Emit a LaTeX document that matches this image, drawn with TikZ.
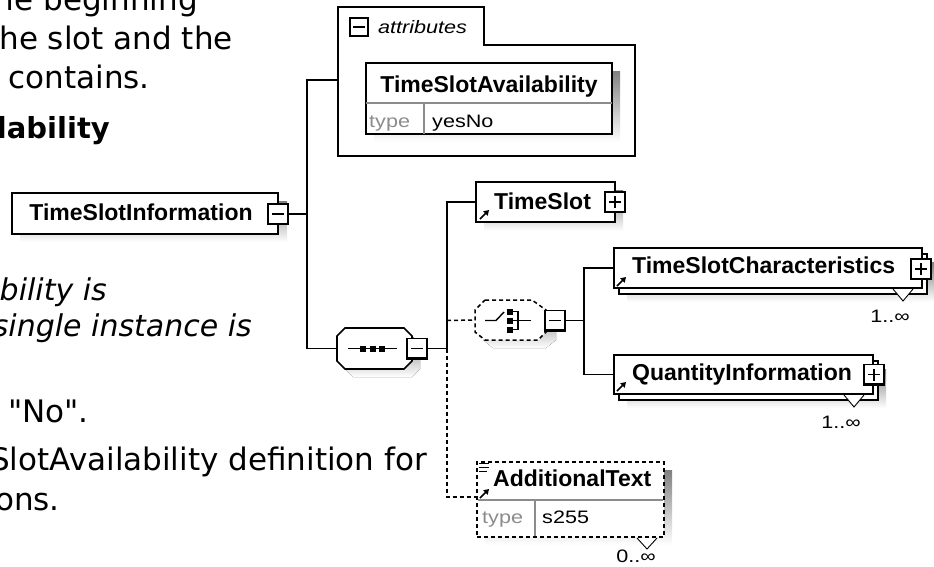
\documentclass[tikz,border=0pt]{standalone}
\usepackage{fontspec}
\setmainfont{Liberation Sans}
\newfontfamily\pagefont{DejaVu Sans}
\newfontfamily\widefont[FakeStretch=1.2]{Liberation Sans}
\usetikzlibrary{arrows.meta}
\definecolor{shade}{RGB}{192,192,192}
\definecolor{lbl}{RGB}{140,140,140}
\tikzset{
  conn/.style={line width=1.5pt},
  optconn/.style={line width=1.5pt, dash pattern=on 4pt off 3pt},
  elem/.style={draw, fill=white, line width=1.6pt, inner sep=0pt, outer sep=0pt, anchor=north west},
  optelem/.style={elem, dash pattern=on 4pt off 3pt},
  btn/.style={draw, fill=white, line width=1.3pt, minimum size=20pt, inner sep=0pt, outer sep=0pt},
  hid/.style={inner sep=0pt, outer sep=0pt},
  ename/.style={font=\fontsize{23}{23}\selectfont\bfseries, inner sep=0pt, anchor=base west},
  smalltxt/.style={font=\widefont\fontsize{18}{18}\selectfont, inner sep=0pt, anchor=base west},
  typelbl/.style={smalltxt, text=lbl},
  mult/.style={smalltxt, anchor=base east},
  body/.style={font=\pagefont\fontsize{31}{36}\selectfont, inner sep=0pt, anchor=base east},
  bodyb/.style={body, font=\pagefont\fontsize{29}{36}\selectfont\bfseries},
  bodyi/.style={body, font=\pagefont\fontsize{30}{36}\selectfont\itshape},
  refarrow/.style={line width=1.6pt, -{Triangle[length=5pt,width=6pt]}},
  sepline/.style={draw=lbl, line width=1.2pt},
}
\newcommand\mkbtn[3]{%
  \node[btn] (#1) at (#2) {};
  \draw[line width=2.4pt] ([yshift=1pt]#1.north east) -- (#1.south east) -- ([xshift=-1pt]#1.south west);
  \draw[line width=1.5pt] ([xshift=4pt]#1.west) -- ([xshift=-4pt]#1.east);
  \ifnum#3=1\relax\draw[line width=1.5pt] ([yshift=-4pt]#1.north) -- ([yshift=4pt]#1.south);\fi}
\begin{document}
\begin{tikzpicture}[x=1pt,y=-1pt]
\path[use as bounding box] (0,0) rectangle (934,566);
\clip (0,0) rectangle (934,566);

% ---- left page text (clipped) ----
\node[body] (t1) at (198,10) {he beginning};
\node[body] (t2) at (233,49) {he slot and the};
\node[body] (t3) at (150,88) {contains.};
\node[bodyb] (t4) at (110,138) {lability};
\node[bodyi] (t5) at (107,300) {bility is};
\node[bodyi] (t6) at (252,336) {single instance is};
\node[body, anchor=base west] (t7) at (8,422) {"No".};
\node[body, anchor=base west] (t8) at (-10,470) {SlotAvailability definition for};
\node[body] (t9) at (60,510) {ons.};

% ---- TimeSlotInformation ----
\fill[shade] (20,201) rectangle (287,242);
\node[elem, minimum width=266pt, minimum height=41pt] (tsi) at (12,193) {};
\node[ename, anchor=base] (tsitxt) at (141,220) {TimeSlotInformation};
\mkbtn{tsibtn}{278,214}{0}

% ---- attributes ----
\draw[line width=1.6pt, fill=white] (338,7) -- (484,7) -- (484,45) -- (635,45) -- (635,156) -- (338,156) -- cycle;
\coordinate (attrin) at (338,80);
\node[draw, line width=1.6pt, minimum size=18pt, inner sep=0pt] (attrbtn) at (359,27) {};
\draw[line width=1.5pt] ([xshift=4pt]attrbtn.west) -- ([xshift=-4pt]attrbtn.east);
\node[smalltxt, font=\widefont\fontsize{18}{18}\selectfont\itshape] (attrtxt) at (378,33) {attributes};
\fill[shade] (374,71) rectangle (620,142);
\node[elem, minimum width=246pt, minimum height=71pt] (tsa) at (366,63) {};
\draw[sepline] (366,103) -- (612,103);
\draw[sepline] (424,103) -- (424,134);
\node[ename, anchor=base] (tsatxt) at (489,92) {TimeSlotAvailability};
\node[typelbl] (tsatype) at (369,127) {type};
\node[smalltxt] (tsaval) at (432,127) {yesNo};

% ---- sequence ----
\fill[shade] (353,336) -- (412,336) -- (420,344) -- (420,369) -- (412,377) -- (353,377) -- (345,369) -- (345,344) -- cycle;
\draw[line width=1.6pt, fill=white] (345,328) -- (404,328) -- (412,336) -- (412,361) -- (404,369) -- (345,369) -- (337,361) -- (337,336) -- cycle;
\node[hid, minimum width=75pt, minimum height=41pt] (seq) at (374.5,348.5) {};
\draw[line width=1.5pt] (348,348.5) -- (397,348.5);
\fill (360,346) rectangle (366,351.5);
\fill (369.5,346) rectangle (375.5,351.5);
\fill (379,346) rectangle (385,351.5);
\mkbtn{seqbtn}{417,348.5}{0}

% ---- choice ----
\fill[shade] (493,308) -- (540,308) -- (556,318) -- (556,340) -- (546,348) -- (493,348) -- (483,340) -- (483,318) -- cycle;
\draw[line width=1.5pt, fill=white, dash pattern=on 4pt off 3pt] (485,300) -- (532,300) -- (546,310) -- (546,332) -- (538,340) -- (485,340) -- (475,332) -- (475,310) -- cycle;
\node[hid, minimum width=71pt, minimum height=40pt] (ch) at (510.5,320) {};
\draw[line width=1.4pt] (485,320.5) -- (496,320.5) -- (504,312);
\fill (507,309) rectangle (513,314.5);
\fill (507,318) rectangle (513,323.5);
\fill (507,327) rectangle (513,332.5);
\draw[line width=1.2pt] (513,311.5) -- (518,311.5) -- (518,329.5) -- (513,329.5);
\draw[line width=1.2pt] (513,320.5) -- (531,320.5);
\mkbtn{chbtn}{555,320.5}{0}

% ---- TimeSlot ----
\fill[shade] (484,190) rectangle (623,231);
\node[elem, minimum width=139pt, minimum height=40pt] (ts) at (476,182) {};
\node[ename] (tstxt) at (494,209) {TimeSlot};
\draw[refarrow] (480,219) -- (489,210);
\mkbtn{tsbtn}{615,202}{1}

% ---- TimeSlotCharacteristics ----
\fill[shade] (627,262) rectangle (935,302);
\draw[line width=1.6pt, fill=white] (619,254) rectangle (927,294);
\node[elem, minimum width=308pt, minimum height=40pt] (tsc) at (614,248) {};
\node[ename] (tsctxt) at (632,273) {TimeSlotCharacteristics};
\draw[refarrow] (617,286) -- (626,277);
\mkbtn{tscbtn}{921,269}{1}
\fill[white] (893,289) -- (903,301) -- (913,289) -- cycle;
\draw[line width=0.9pt] (893,289) -- (903,301) -- (913,289);
\node[mult] (tscm) at (910,322) {1..∞};

% ---- QuantityInformation ----
\fill[shade] (627,369) rectangle (886,408);
\draw[line width=1.6pt, fill=white] (619,361) rectangle (878,400);
\node[elem, minimum width=259pt, minimum height=39pt] (qi) at (614,355) {};
\node[ename] (qitxt) at (632,380) {QuantityInformation};
\draw[refarrow] (617,391) -- (626,382);
\mkbtn{qibtn}{874,374.5}{1}
\fill[white] (844,395) -- (854,407) -- (864,395) -- cycle;
\draw[line width=0.9pt] (844,395) -- (854,407) -- (864,395);
\node[mult] (qim) at (861,428) {1..∞};

% ---- AdditionalText ----
\fill[shade] (485,470) rectangle (672,545);
\node[optelem, minimum width=187pt, minimum height=75pt] (at) at (477,462) {};
\draw[sepline] (478,500) -- (663,500);
\draw[sepline] (535,500) -- (535,536);
\draw[line width=1pt] (479,463.5) -- (489,463.5) (479,467.5) -- (489,467.5) (479,471.5) -- (487,471.5);
\node[ename] (attxt) at (493,486) {AdditionalText};
\draw[refarrow] (480,498) -- (489,489);
\node[typelbl] (attype) at (482,523) {type};
\node[smalltxt] (atval) at (542,523) {s255};
\fill[white] (637,538) -- (647,549) -- (657,538) -- cycle;
\draw[line width=0.9pt] (637,538) -- (647,549) -- (657,538);
\node[mult] (atm) at (656,562) {0..∞};

% ---- connectors ----
\coordinate (ja) at (307,80);
\coordinate (jb) at (307,348.5);
\coordinate (jc) at (447,348.5);
\coordinate (jd) at (447,320.5);
\coordinate (je) at (447,497);
\coordinate (atin) at (477,497);
\coordinate (jf) at (584,320.5);
\draw[conn] (tsibtn.east) -- (tsibtn.east -| ja);
\draw[conn] (attrin) -- (ja) -- (jb) -- (seq.west);
\draw[conn] (seqbtn.east) -- (jc);
\draw[conn] (ts.west) -- (ts.west -| jc) -- (jc);
\draw[optconn] (jd) -- (ch.west);
\draw[optconn] (jc) -- (je) -- (atin);
\draw[conn] (chbtn.east) -- (jf);
\draw[conn] (tsc.west) -- (tsc.west -| jf) -- (qi.west -| jf) -- (qi.west);
\end{tikzpicture}
\end{document}
